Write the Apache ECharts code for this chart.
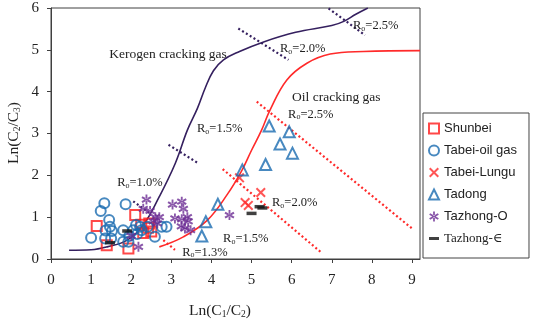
<!DOCTYPE html>
<html><head><meta charset="utf-8">
<script src="https://cdn.jsdelivr.net/npm/echarts@6/dist/echarts.min.js"></script>
<style>html,body{margin:0;padding:0;background:#fff}#c{width:533px;height:323px}</style>
</head><body><div id="c"></div>
<script>
// ---------- data ----------
const xTicks = [0,1,2,3,4,5,6,7,8,9];
const yTicks = [0,1,2,3,4,5,6];
const shunbei = [[1.14,0.79],[1.39,0.33],[1.93,0.25],[2.1,1.05],[2.25,0.82],[2.3,0.62],[2.45,0.85],[2.5,0.66],[2.42,0.75]];
const tabeiOilGas = [[1.0,0.51],[1.24,1.15],[1.33,1.33],[1.45,0.93],[1.47,0.77],[1.36,0.68],[1.52,0.67],[1.35,0.49],[1.5,0.49],[1.86,1.31],[1.8,0.69],[1.8,0.41],[1.93,0.41],[1.95,0.55],[2.05,0.69],[2.12,0.81],[2.22,0.77],[2.26,0.69],[2.41,0.77],[2.59,0.53],[2.76,0.77],[2.88,0.77],[2.15,0.6]];
const tabeiLungu = [[4.7,1.94],[5.23,1.59],[4.84,1.35],[4.92,1.28]];
const tadong = [[5.44,3.18],[5.94,3.04],[5.71,2.75],[6.02,2.53],[5.35,2.26],[4.77,2.13],[4.16,1.31],[3.86,0.89],[3.76,0.55]];
const tazhongO = [[2.38,1.42],[2.3,1.2],[2.47,1.15],[2.18,0.29],[2.6,1.0],[2.7,1.0],[2.55,0.9],[2.65,0.85],[3.03,1.3],[3.26,1.37],[3.3,1.2],[3.09,0.97],[3.26,0.95],[3.4,1.0],[3.34,0.73],[3.48,0.69],[3.25,0.78],[3.42,0.9],[4.45,1.05],[2.0,0.55]];
const tazhongCam = [[1.47,0.39],[1.9,0.67],[5.0,1.09],[5.2,1.25],[5.27,1.22]];
const kerogenCurve = [[0.45,0.21],[1.0,0.22],[1.4,0.29],[1.9,0.45],[2.3,0.81],[2.7,1.49],[3.1,2.29],[3.4,3.08],[3.65,3.6],[3.85,4.1],[4.05,4.5],[4.3,4.76],[4.7,4.96],[5.3,5.19],[6.1,5.42],[7.0,5.58],[7.3,5.68],[7.6,5.85],[7.9,6.0]];
const oilCurve = [[2.7,0.29],[3.3,0.53],[3.9,0.93],[4.4,1.55],[4.75,2.1],[5.0,2.6],[5.25,3.08],[5.46,3.56],[5.88,4.28],[6.38,4.68],[6.96,4.9],[7.79,4.96],[9.2,4.98]];
const roPurple = [[[2.05,1.38],[2.45,1.1]],[[2.93,2.73],[3.67,2.29]],[[4.67,5.51],[5.92,4.76]],[[6.92,5.99],[7.83,5.35]]];
const roRed = [[[2.8,0.45],[3.09,0.22]],[[4.28,2.15],[6.72,0.17]],[[5.13,3.76],[9.0,0.73]]];
const roLabels = [
  {t:'1.0%', x:1.65, y:1.84},{t:'1.5%', x:3.64, y:3.13},{t:'2.0%', x:5.71, y:5.04},{t:'2.5%', x:7.53, y:5.59},
  {t:'2.5%', x:5.91, y:3.47},{t:'2.0%', x:5.51, y:1.36},{t:'1.5%', x:4.29, y:0.50},{t:'1.3%', x:3.27, y:0.17}
];
const areaLabels = [{t:'Kerogen cracking gas', x:1.45, y:4.88},{t:'Oil cracking gas', x:6.01, y:3.87}];
const names = ['Shunbei','Tabei-oil gas','Tabei-Lungu','Tadong','Tazhong-O','Tazhong-∈'];

// ---------- styles ----------
const PURPLE_LINE = '#35205f', RED = '#ff2a2a', BLUE = '#1a6bb0', VIOLET = '#6c2c94';
const SERIF = '"Liberation Serif","DejaVu Serif",serif';
const SANS = '"Liberation Sans",Arial,sans-serif';
const xPath = 'path://M0,1.4L1.4,0L10,8.6L8.6,10Z M8.6,0L10,1.4L1.4,10L0,8.6Z';
const starPath = 'path://M4.1,0H5.9V10H4.1Z M1.17,8.37L9.83,3.37L8.83,1.63L0.17,6.63Z M0.17,3.37L8.83,8.37L9.83,6.63L1.17,1.63Z';
const dashPath = 'path://M0,0M10,10M0,3.5H10V6.5H0Z';

const chart = echarts.init(document.getElementById('c'), null, {renderer:'canvas'});
const lineSeries = [];
lineSeries.push({type:'line', data:kerogenCurve, smooth:0.4, showSymbol:false, silent:true, lineStyle:{color:PURPLE_LINE, width:1.6}, z:1});
lineSeries.push({type:'line', data:oilCurve, smooth:0.4, showSymbol:false, silent:true, lineStyle:{color:RED, width:1.6}, z:1});
roPurple.forEach(d=>lineSeries.push({type:'line', data:d, showSymbol:false, silent:true, lineStyle:{color:PURPLE_LINE, width:2.2, type:[2,2.5]}, z:1}));
roRed.forEach(d=>lineSeries.push({type:'line', data:d, showSymbol:false, silent:true, lineStyle:{color:RED, width:2.2, type:[2,2.5]}, z:1}));

const sc = (name, data, symbol, size, itemStyle, z) => ({type:'scatter', name, data, symbol, symbolSize:size, itemStyle, z:z||3});
const option = {
  animation:false,
  backgroundColor:'#fff',
  grid:{left:51, top:8, right:113, bottom:64, show:true, borderColor:'#404040', borderWidth:1},
  xAxis:{type:'value', min:0, max:9.2, interval:1,
    axisLine:{lineStyle:{color:'#404040'}}, axisTick:{length:4, lineStyle:{color:'#404040'}},
    axisLabel:{fontFamily:SERIF, fontSize:15, color:'#222', margin:14, showMaxLabel:false, formatter:v=>xTicks.includes(v)?String(v):''},
    splitLine:{show:false}},
  yAxis:{type:'value', min:0, max:6, interval:1,
    axisLine:{lineStyle:{color:'#404040'}}, axisTick:{length:4, lineStyle:{color:'#404040'}},
    axisLabel:{fontFamily:SERIF, fontSize:15, color:'#222', margin:12, formatter:v=>yTicks.includes(v)?String(v):''},
    splitLine:{show:false}},
  legend:{orient:'vertical', left:423, top:113, padding:[9,12,13,5], itemGap:9, itemWidth:10, itemHeight:10,
    backgroundColor:'#fff', borderColor:'#444', borderWidth:1,
    textStyle:{fontFamily:SANS, fontSize:13, color:'#222', rich:{s:{fontFamily:SERIF, fontSize:13, color:'#222'}}},
    formatter:n=> n==='Tazhong-∈' ? '{s|'+n+'}' : n,
    data:[
      {name:names[0], icon:'rect'},
      {name:names[1], icon:'circle'},
      {name:names[2], icon:xPath},
      {name:names[3], icon:'triangle'},
      {name:names[4], icon:starPath},
      {name:names[5], icon:dashPath}
    ]},
  series: lineSeries.concat([
    sc(names[0], shunbei, 'rect', 10, {color:'rgba(0,0,0,0)', borderColor:'#ff1a1a', borderWidth:2}),
    sc(names[1], tabeiOilGas, 'circle', 10, {color:'rgba(0,0,0,0)', borderColor:BLUE, borderWidth:2}),
    sc(names[2], tabeiLungu, xPath, 10, {color:'#ff2a2a'}),
    sc(names[3], tadong, 'triangle', 11, {color:'rgba(0,0,0,0)', borderColor:BLUE, borderWidth:2}),
    sc(names[4], tazhongO, starPath, 10, {color:VIOLET}),
    sc(names[5], tazhongCam, 'rect', [10,3.5], {color:'#111'}, 4)
  ])
};
chart.setOption(option);

// annotations positioned through the axes
const g = [];
roLabels.forEach(l=>{
  const p = chart.convertToPixel({gridIndex:0}, [l.x, l.y]);
  g.push({type:'text', x:p[0], y:p[1], z:10, style:{text:'{r|R}{s|o}{r|='+l.t+'}', verticalAlign:'middle', fill:'#222',
    rich:{r:{fontFamily:SERIF, fontSize:12.5, lineHeight:15, verticalAlign:'bottom', fill:'#222'}, s:{fontFamily:SERIF, fontSize:8, lineHeight:8, verticalAlign:'bottom', fill:'#222'}}}});
});
areaLabels.forEach(l=>{
  const p = chart.convertToPixel({gridIndex:0}, [l.x, l.y]);
  g.push({type:'text', x:p[0], y:p[1], z:10, style:{text:l.t, fontFamily:SERIF, fontSize:13.5, fill:'#222', verticalAlign:'middle'}});
});
const titleRich = {r:{fontFamily:SERIF, fontSize:15.5, lineHeight:18, verticalAlign:'bottom', fill:'#222'}, s:{fontFamily:SERIF, fontSize:9.5, lineHeight:10, verticalAlign:'bottom', fill:'#222'}};
g.push({type:'text', x:220, y:310, z:10, style:{text:'{r|Ln(C}{s|1}{r|/C}{s|2}{r|)}', align:'center', verticalAlign:'middle', rich:titleRich}});
g.push({type:'text', x:13, y:133, rotation:Math.PI/2, z:10, style:{text:'{r|Ln(C}{s|2}{r|/C}{s|3}{r|)}', align:'center', verticalAlign:'middle', rich:titleRich}});
chart.setOption({graphic:g});
</script></body></html>
